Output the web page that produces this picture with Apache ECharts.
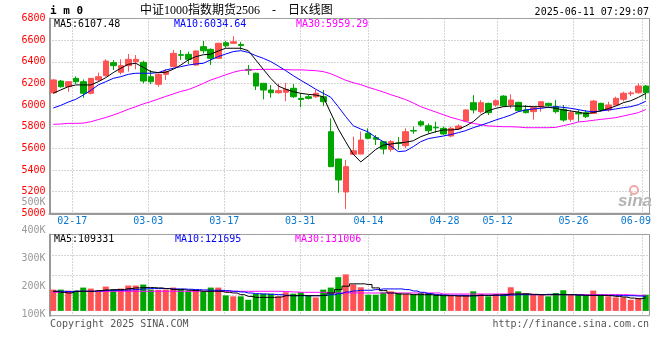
<!DOCTYPE html>
<html><head><meta charset="utf-8">
<script src="https://cdn.jsdelivr.net/npm/echarts@6/dist/echarts.min.js"></script>
<style>html,body{margin:0;padding:0;background:#fff}#c{width:660px;height:360px}</style>
</head><body><div id="c"></div>
<script>
const dates = ['02-12','02-13','02-14','02-17','02-18','02-19','02-20','02-21','02-24','02-25','02-26','02-27','02-28',
'03-03','03-04','03-05','03-06','03-07','03-10','03-11','03-12','03-13','03-14','03-17','03-18','03-19','03-20','03-21','03-24','03-25','03-26','03-27','03-28','03-31',
'04-01','04-02','04-03','04-07','04-08','04-09','04-10','04-11','04-14','04-15','04-16','04-17','04-18','04-21','04-22','04-23','04-24','04-25','04-28','04-29','04-30',
'05-06','05-07','05-08','05-09','05-12','05-13','05-14','05-15','05-16','05-19','05-20','05-21','05-22','05-23','05-26','05-27','05-28','05-29','05-30',
'06-03','06-04','06-05','06-06','06-09','06-10'];
const xTickLabels = ['02-17','03-03','03-17','03-31','04-14','04-28','05-12','05-26','06-09'];

const openP = [6114,6222,6170,6247,6216,6109,6232,6272,6392,6303,
6364,6401,6395,6262,6192,6284,6355,6466,6469,6370,
6540,6515,6432,6576,6571,6560,6330,6294,6201,6139,
6114,6118,6155,6062,6077,6077,6077,5754,5502,5197,
5545,5548,5739,5699,5662,5591,5650,5625,5765,5846,
5809,5795,5785,5714,5779,5853,6022,5939,6016,6001,
6083,6001,6025,5955,5939,5985,6016,5985,5961,5869,
5930,5930,5924,6016,5955,6001,6053,6105,6114,6176];
const closeP = [6232,6170,6216,6216,6109,6247,6262,6407,6364,6364,
6423,6423,6222,6216,6284,6309,6478,6460,6423,6500,
6502,6432,6571,6548,6585,6550,6322,6176,6139,6114,
6133,6146,6077,6052,6062,6109,6031,5431,5308,5431,
5578,5677,5693,5684,5594,5662,5645,5754,5760,5816,
5763,5790,5733,5785,5806,5955,5955,6022,5930,6040,
5994,6047,5948,5930,5976,6031,5994,5939,5862,5930,
5918,5893,6037,5955,6001,6062,6109,6112,6176,6114];
const lowP = [6105,6160,6123,6195,6068,6100,6216,6262,6324,6282,
6309,6331,6201,6195,6170,6232,6349,6417,6380,6365,
6478,6370,6425,6530,6564,6511,6278,6139,6052,6068,
6105,6036,6065,5980,6052,6065,5990,5431,5190,5040,
5545,5545,5684,5631,5545,5569,5588,5600,5735,5800,
5735,5744,5725,5704,5770,5846,5923,5923,5908,5985,
5985,5970,5939,5923,5865,5939,5985,5923,5846,5846,
5846,5880,5918,5939,5939,5994,6034,6083,6105,6053];
const highP = [6240,6232,6222,6265,6237,6250,6300,6423,6416,6423,
6472,6463,6410,6324,6293,6331,6509,6509,6494,6505,
6592,6524,6575,6594,6636,6585,6370,6300,6205,6185,
6198,6204,6195,6110,6093,6139,6139,5877,5502,5493,
5708,5754,5785,5723,5662,5677,5705,5785,5803,5860,
5830,5846,5800,5800,5822,5960,6092,6046,6022,6053,
6092,6099,6031,6001,5985,6031,6022,6046,6001,5955,
5955,5955,6046,6022,6031,6077,6124,6130,6200,6185];

const ma5 = [6110,6140,6170,6186,6186,6186,6216,6253,6300,6340,
6377,6386,6349,6309,6300,6303,6331,6370,6417,6447,
6465,6470,6500,6525,6525,6525,6503,6417,6331,6247,
6176,6146,6124,6109,6099,6093,6077,5927,5780,5660,
5545,5475,5530,5590,5630,5640,5650,5657,5670,5708,
5733,5754,5770,5770,5776,5807,5847,5908,5948,5970,
5985,5991,5991,5988,5985,5985,5979,5970,5955,5945,
5936,5920,5930,5948,5967,5991,6022,6040,6071,6107];
const ma10 = [5973,5997,6028,6053,6093,6135,6186,6216,6247,6262,
6284,6294,6294,6294,6300,6324,6340,6355,6370,6380,
6386,6418,6448,6472,6494,6503,6487,6457,6432,6402,
6361,6318,6272,6229,6189,6146,6109,6072,5985,5893,
5809,5779,5751,5702,5662,5622,5570,5576,5616,5662,
5690,5702,5714,5727,5745,5764,5791,5813,5837,5862,
5884,5908,5939,5955,5964,5970,5979,5985,5979,5970,
5958,5945,5939,5945,5955,5964,5976,5985,6004,6035];
const ma30 = [5822,5825,5831,5831,5833,5846,5866,5885,5908,5933,
5961,5985,6011,6032,6056,6080,6103,6126,6143,6170,
6200,6232,6255,6280,6303,6320,6325,6328,6330,6330,
6330,6328,6325,6325,6322,6318,6309,6290,6260,6229,
6207,6189,6164,6143,6121,6096,6074,6050,6019,5985,
5960,5936,5911,5887,5868,5847,5831,5819,5807,5804,
5800,5800,5797,5791,5791,5791,5791,5794,5810,5825,
5844,5850,5859,5868,5875,5884,5899,5914,5930,5959];

const vol = [178500,178500,170000,170000,195500,187000,170000,204000,176000,187000,
212500,212500,221000,178500,176000,178500,195500,178500,164000,178500,
164000,195500,195500,130000,122000,122000,93500,141700,144500,144500,
122000,156000,144500,156000,127500,113000,178500,195500,283000,306000,
221000,198000,136000,136000,156000,164000,150000,141700,141700,150000,
150000,136000,136000,127500,127500,136000,164000,141700,122000,141700,
136000,198000,164000,150000,141700,141700,122000,150000,173000,141700,
136000,130000,170000,136000,122000,113000,113000,93500,107700,136000];
const volMA5 = [164400,155900,150200,164400,164400,164400,170000,175700,178500,178500,
187000,192700,195500,195500,192700,187000,178500,178500,172900,170000,
164400,164400,164400,155900,150200,136000,121900,113400,113400,113400,
116200,127500,127500,130400,127500,127500,130400,150200,178500,206900,
226700,226700,221000,192700,170000,150200,141700,141700,136000,136000,
136000,130400,127500,127500,124700,124700,127500,130400,130400,133200,
136000,141700,141700,141700,138900,136000,136000,136000,136000,136000,
133200,130400,130400,130400,127500,121900,116200,107700,102000,109331];
const volMA10 = [164400,164400,161500,164400,164400,164400,167200,170000,172900,172900,
175700,178500,184200,187000,187000,187000,184200,184200,181400,178500,
175700,172900,172900,170000,164400,158700,150200,144500,141700,138900,
136000,130400,127500,127500,127500,127500,130400,136000,144500,158700,
167200,172900,172900,178500,184200,184200,184200,178500,167200,155900,
144500,136000,133200,130400,130400,127500,127500,130400,130400,130400,
130400,133200,136000,136000,136000,136000,138900,138900,136000,136000,
133200,130400,130400,130400,130400,130400,127500,127500,124700,121695];
const volMA30 = [155900,155900,155900,
164400,164400,164400,164400,164400,164400,164400,164400,164400,164400,164400,164400,164400,164400,
164400,164400,164400,164400,164400,164400,164400,164400,164400,164400,164400,164400,164400,164400,
161500,158700,155900,155900,155900,155900,
150200,150200,150200,150200,150200,150200,150200,150200,150200,150200,150200,150200,150200,150200,150200,
141700,141700,141700,141700,141700,141700,141700,141700,141700,141700,141700,141700,
136000,136000,136000,136000,136000,136000,136000,136000,136000,136000,136000,136000,136000,
133200,130400,131006];
const volTickLabels = [100000,200000,300000,400000,500000];

const titleText = '中证1000指数期货2506\u3000-\u3000日K线图';
const symbolText = 'i m 0';
const timeText = '2025-06-11 07:29:07';
const priceMALabels = ['MA5:6107.48','MA10:6034.64','MA30:5959.29'];
const volMALabels = ['MA5:109331','MA10:121695','MA30:131006'];
const footerLeft = 'Copyright 2025 SINA.COM';
const footerRight = 'http://finance.sina.com.cn';

const RED = '#ff5252', GREEN = '#00a600';
const MONO = '"DejaVu Sans Mono", monospace';
const candleData = dates.map((d, i) => [openP[i], closeP[i], lowP[i], highP[i]]);
const tickFn = (idx, val) => xTickLabels.indexOf(val) >= 0;
const gridLine = {show: true, interval: tickFn, lineStyle: {color: '#aaa', width: 1, type: [1, 2]}};
const hGridLine = {show: true, lineStyle: {color: '#aaa', width: 1, type: [1, 2]}};

const chart = echarts.init(document.getElementById('c'), null, {renderer: 'canvas'});
const txt = (x, y, text, color, extra) => Object.assign({type: 'text', x: x, y: y, silent: true,
  style: Object.assign({text: text, fill: color, fontSize: 10, fontFamily: MONO, verticalAlign: 'middle'}, extra || {})});

chart.setOption({
  animation: false,
  backgroundColor: '#fff',
  grid: [
    {left: 49.5, top: 18.5, width: 600, height: 194.8, show: true, borderColor: '#999', borderWidth: 1, outerBoundsMode: 'none'},
    {left: 49.5, top: 234.5, width: 600, height: 81.2, show: true, borderColor: '#999', borderWidth: 1, outerBoundsMode: 'none'},
    {left: 49.5, top: 202.2, width: 600, height: 112.6, show: false, outerBoundsMode: 'none'}
  ],
  xAxis: [
    {type: 'category', gridIndex: 0, position: 'bottom', data: dates, boundaryGap: true, show: false},
    {type: 'category', gridIndex: 0, position: 'bottom', data: dates, boundaryGap: false,
      axisLine: {show: true, lineStyle: {color: '#999', width: 2}}, axisTick: {show: false},
      axisLabel: {interval: tickFn, color: '#0a78d0', fontFamily: MONO, fontSize: 10, margin: 3,
        formatter: v => v === '06-09' ? '{r|' + v + '}' : v,
        rich: {r: {padding: [0, 12, 0, 0], color: '#0a78d0', fontFamily: MONO, fontSize: 10}}},
      splitLine: gridLine},
    {type: 'category', gridIndex: 1, position: 'bottom', data: dates, boundaryGap: true, show: false},
    {type: 'category', gridIndex: 1, position: 'bottom', data: dates, boundaryGap: false,
      axisLine: {show: false}, axisTick: {show: false}, axisLabel: {show: false}, splitLine: gridLine},
    {type: 'category', gridIndex: 2, position: 'bottom', data: dates, show: false}
  ],
  yAxis: [
    {type: 'value', gridIndex: 0, position: 'left', min: 5000, max: 6800, interval: 200,
      axisLine: {show: true, lineStyle: {color: '#999', width: 2}}, axisTick: {show: false},
      axisLabel: {color: '#f00', fontFamily: MONO, fontSize: 10, margin: 4, padding: [0, 0, 4, 0], formatter: v => String(v)},
      splitLine: hGridLine},
    {type: 'value', gridIndex: 1, position: 'left', min: -40000, max: 640000, interval: 170000,
      axisLine: {show: true, lineStyle: {color: '#999', width: 2}}, axisTick: {show: false},
      axisLabel: {show: false}, splitLine: hGridLine},
    {type: 'value', gridIndex: 2, position: 'left', min: volTickLabels[0], max: volTickLabels[volTickLabels.length - 1], interval: 100000,
      axisLine: {show: false}, axisTick: {show: false}, splitLine: {show: false},
      axisLabel: {color: '#999', fontFamily: MONO, fontSize: 10, margin: 4, formatter: v => (v / 1000) + 'K'}}
  ],
  series: [
    {type: 'candlestick', xAxisIndex: 0, yAxisIndex: 0, data: candleData, barWidth: 6,
      itemStyle: {color: RED, color0: GREEN, borderColor: RED, borderColor0: GREEN, borderWidth: 1}},
    {type: 'line', xAxisIndex: 0, yAxisIndex: 0, data: ma30, symbol: 'none', lineStyle: {color: '#ff00ff', width: 1}},
    {type: 'line', xAxisIndex: 0, yAxisIndex: 0, data: ma10, symbol: 'none', lineStyle: {color: '#0000ff', width: 1}},
    {type: 'line', xAxisIndex: 0, yAxisIndex: 0, data: ma5, symbol: 'none', lineStyle: {color: '#000', width: 1}},
    {type: 'bar', xAxisIndex: 2, yAxisIndex: 1, data: vol, barWidth: 6,
      itemStyle: {color: p => closeP[p.dataIndex] >= openP[p.dataIndex] ? RED : GREEN}},
    {type: 'line', xAxisIndex: 2, yAxisIndex: 1, data: volMA30, step: 'middle', symbol: 'none', lineStyle: {color: '#ff00ff', width: 1}},
    {type: 'line', xAxisIndex: 2, yAxisIndex: 1, data: volMA10, step: 'middle', symbol: 'none', lineStyle: {color: '#0000ff', width: 1}},
    {type: 'line', xAxisIndex: 2, yAxisIndex: 1, data: volMA5, step: 'middle', symbol: 'none', lineStyle: {color: '#000', width: 1}}
  ],
  graphic: [
    txt(50, 11, symbolText, '#000', {fontSize: 11, fontWeight: 'bold'}),
    txt(140, 11, titleText, '#000', {fontSize: 12, fontFamily: '"Liberation Serif", "Noto Sans CJK SC", serif'}),
    txt(649, 12, timeText, '#000', {align: 'right'}),
    txt(54, 24, priceMALabels[0], '#000'),
    txt(174, 24, priceMALabels[1], '#0000ff'),
    txt(296, 24, priceMALabels[2], '#ff00ff'),
    txt(54, 239, volMALabels[0], '#000'),
    txt(175, 239, volMALabels[1], '#0000ff'),
    txt(295, 239, volMALabels[2], '#ff00ff'),
    txt(50, 324, footerLeft, '#555'),
    txt(649, 324, footerRight, '#555', {align: 'right'}),
    {type: 'circle', silent: true, shape: {cx: 634, cy: 190, r: 4}, style: {fill: 'none', stroke: '#f4a8a8', lineWidth: 2}},
    txt(618, 201, 'sina', '#b4b4b4', {fontSize: 17, fontWeight: 'bold', fontStyle: 'italic', fontFamily: '"Liberation Sans", sans-serif'})
  ]
});
</script></body></html>
